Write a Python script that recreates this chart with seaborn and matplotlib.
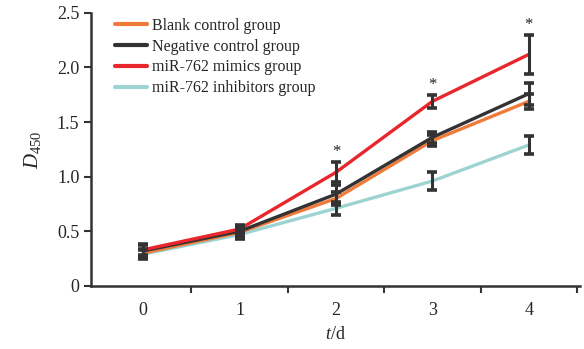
import numpy as np
import pandas as pd
import matplotlib
matplotlib.use("Agg")
import matplotlib.pyplot as plt
import seaborn as sns

days = [0, 1, 2, 3, 4]
groups = ["Blank control group", "Negative control group",
          "miR-762 mimics group", "miR-762 inhibitors group"]
blank = [0.30, 0.49, 0.80, 1.33, 1.69]
negative = [0.32, 0.50, 0.84, 1.36, 1.76]
mimics = [0.33, 0.52, 1.04, 1.69, 2.12]
inhibitors = [0.29, 0.47, 0.71, 0.96, 1.29]
blank_err = [0.04, 0.04, 0.06, 0.05, 0.07]
negative_err = [0.05, 0.04, 0.08, 0.05, 0.10]
mimics_err = [0.05, 0.04, 0.09, 0.06, 0.18]
inhibitors_err = [0.04, 0.04, 0.06, 0.08, 0.08]
star_days = [2, 3, 4]

colors = ["#F07A3A", "#333333", "#E8262B", "#9DD4D1"]

sns.set_theme(style="ticks")
plt.rcParams["font.family"] = ["Liberation Serif", "DejaVu Serif"]
plt.rcParams["mathtext.fontset"] = "custom"
plt.rcParams["mathtext.rm"] = "Liberation Serif"
plt.rcParams["mathtext.it"] = "Liberation Serif:italic"

vals = [blank, negative, mimics, inhibitors]
errs = [blank_err, negative_err, mimics_err, inhibitors_err]
df = pd.DataFrame({
    "day": days * 4,
    "value": blank + negative + mimics + inhibitors,
    "group": sum([[g] * 5 for g in groups], []),
})

fig = plt.figure(figsize=(5.84, 3.49), dpi=100)
ax = fig.add_axes([0.156, 0.181, 0.837, 0.782])

zorders = {0: 2, 1: 3, 2: 4, 3: 1}
for i, g in enumerate(groups):
    sub = df[df["group"] == g]
    sns.lineplot(data=sub, x="day", y="value", color=colors[i], lw=2.4,
                 ax=ax, label=g, zorder=zorders[i])
for i in range(4):
    ax.errorbar(days, vals[i], yerr=errs[i], fmt="none", ecolor="#333333",
                elinewidth=2.2, capsize=3.8, capthick=2.6, zorder=6)
for d in star_days:
    top = mimics[d] + mimics_err[d]
    ax.text(d, top + 0.02, "*", ha="center", va="bottom", fontsize=12,
            color="#222222")

ax.set_xlim(-0.54, 4.53)
ax.set_ylim(0, 2.5)
ax.set_xticks(days)
ax.set_xticklabels([str(d) for d in days])
ax.set_xticks([0.5, 1.5, 2.5, 3.5, 4.5], minor=True)
ax.tick_params(axis="x", which="major", length=0, pad=12, labelsize=13)
ax.tick_params(axis="x", which="minor", length=5, width=1.5, color="#333333")
ax.set_yticks([0, 0.5, 1.0, 1.5, 2.0, 2.5])
ax.set_yticklabels(["0", "0.5", "1.0", "1.5", "2.0", "2.5"])
ax.tick_params(axis="y", length=5, width=1.5, color="#333333", labelsize=13)
for s in ["top", "right"]:
    ax.spines[s].set_visible(False)
for s in ["left", "bottom"]:
    ax.spines[s].set_linewidth(1.8)
    ax.spines[s].set_color("#333333")
ax.set_xlabel("$t$/d", fontsize=13, labelpad=5)
ax.set_ylabel("$D_{450}$", fontsize=15, labelpad=10)

leg = ax.legend(loc="upper left", frameon=False, fontsize=11.5,
                bbox_to_anchor=(0.02, 1.035), handlelength=2.0,
                labelspacing=0.3, handletextpad=0.3)
for h in leg.get_lines():
    h.set_linewidth(3)

fig.savefig("out.png", dpi=100)
